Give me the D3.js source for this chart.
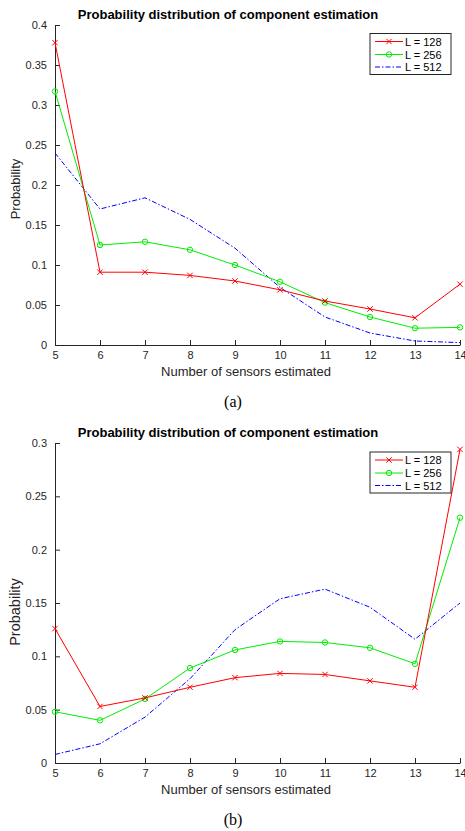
<!DOCTYPE html>
<html>
<head>
<meta charset="utf-8">
<script src="https://cdn.jsdelivr.net/npm/d3@7"></script>
<style>
  body { margin: 0; background: #fff; }
  svg { display: block; font-family: "Liberation Sans", Arial, Helvetica, sans-serif; }
  .axis path, .axis line { stroke: #262626; }
  .axis text { fill: #262626; font-size: 11px; }
</style>
</head>
<body>
<script>
var W = 465, H = 831;

// x values (number of sensors estimated)
var sensors = [5, 6, 7, 8, 9, 10, 11, 12, 13, 14];
var seriesNames = ["L = 128", "L = 256", "L = 512"];

// panel (a)
var a128 = [0.378, 0.091, 0.091, 0.087, 0.080, 0.069, 0.055, 0.045, 0.034, 0.076];
var a256 = [0.317, 0.125, 0.129, 0.119, 0.100, 0.079, 0.053, 0.035, 0.021, 0.022];
var a512 = [0.240, 0.170, 0.184, 0.157, 0.121, 0.072, 0.035, 0.015, 0.005, 0.003];
var aTicks = [0, 0.05, 0.1, 0.15, 0.2, 0.25, 0.3, 0.35, 0.4];

// panel (b)
var b128 = [0.126, 0.053, 0.061, 0.071, 0.080, 0.084, 0.083, 0.077, 0.071, 0.294];
var b256 = [0.048, 0.040, 0.060, 0.089, 0.106, 0.114, 0.113, 0.108, 0.093, 0.230];
var b512 = [0.008, 0.018, 0.043, 0.079, 0.125, 0.154, 0.163, 0.146, 0.116, 0.150];
var bTicks = [0, 0.05, 0.1, 0.15, 0.2, 0.25, 0.3];

var colors = ["#ff0000", "#00ee00", "#0000ff"];

var svg = d3.select("body").append("svg")
    .attr("width", W)
    .attr("height", H);

function drawPanel(opt) {
    var x = d3.scaleLinear().domain([5, 14]).range([55, 460]);
    var y = d3.scaleLinear().domain([0, opt.ymax]).range([opt.bottom, opt.top]);
    var g = svg.append("g");

    // axes
    g.append("g")
        .attr("class", "axis")
        .attr("transform", "translate(0," + opt.bottom + ")")
        .call(d3.axisBottom(x).tickValues(sensors).tickFormat(d3.format("d"))
            .tickSizeInner(-5).tickSizeOuter(0).tickPadding(6));

    g.append("g")
        .attr("class", "axis")
        .attr("transform", "translate(55,0)")
        .call(d3.axisLeft(y).tickValues(opt.ticks).tickFormat(function(d) { return d3.format("~g")(d); })
            .tickSizeInner(-5).tickSizeOuter(0).tickPadding(8));

    var line = d3.line()
        .x(function(d, i) { return x(sensors[i]); })
        .y(function(d) { return y(d); });

    // L = 512 (dash-dot)
    g.append("path")
        .datum(opt.s512)
        .attr("d", line)
        .attr("fill", "none")
        .attr("stroke", colors[2])
        .attr("stroke-width", 1)
        .attr("stroke-dasharray", "5,2,1.5,2");

    // L = 256 (circles)
    g.append("path")
        .datum(opt.s256)
        .attr("d", line)
        .attr("fill", "none")
        .attr("stroke", colors[1])
        .attr("stroke-width", 1);
    g.selectAll(".c256")
        .data(opt.s256)
        .join("circle")
        .attr("class", "c256")
        .attr("cx", function(d, i) { return x(sensors[i]); })
        .attr("cy", function(d) { return y(d); })
        .attr("r", 2.7)
        .attr("fill", "none")
        .attr("stroke", colors[1])
        .attr("stroke-width", 1);

    // L = 128 (crosses)
    g.append("path")
        .datum(opt.s128)
        .attr("d", line)
        .attr("fill", "none")
        .attr("stroke", colors[0])
        .attr("stroke-width", 1);
    g.selectAll(".x128")
        .data(opt.s128)
        .join("path")
        .attr("class", "x128")
        .attr("d", function(d, i) {
            var cx = x(sensors[i]), cy = y(d), r = 2.7;
            return "M" + (cx - r) + "," + (cy - r) + "L" + (cx + r) + "," + (cy + r) +
                   "M" + (cx - r) + "," + (cy + r) + "L" + (cx + r) + "," + (cy - r);
        })
        .attr("stroke", colors[0])
        .attr("stroke-width", 1);

    // title
    g.append("text")
        .attr("x", 228)
        .attr("y", opt.titleY)
        .attr("text-anchor", "middle")
        .attr("font-weight", "bold")
        .attr("font-size", "13px")
        .attr("fill", "#000")
        .text("Probability distribution of component estimation");

    // axis labels
    g.append("text")
        .attr("x", 246)
        .attr("y", opt.bottom + 31)
        .attr("text-anchor", "middle")
        .attr("font-size", "13px")
        .attr("fill", "#262626")
        .text("Number of sensors estimated");

    g.append("text")
        .attr("transform", "translate(20," + opt.ylabelY + ") rotate(-90)")
        .attr("text-anchor", "middle")
        .attr("font-size", opt.ylabelSize)
        .attr("fill", "#262626")
        .text("Probability");

    // caption
    g.append("text")
        .attr("x", 233)
        .attr("y", opt.captionY)
        .attr("text-anchor", "middle")
        .attr("font-family", "'Liberation Serif', 'Times New Roman', serif")
        .attr("font-size", "16px")
        .attr("fill", "#000")
        .text(opt.caption);

    // legend
    var lg = g.append("g").attr("transform", "translate(370," + opt.legendY + ")");
    lg.append("rect")
        .attr("x", 0).attr("y", 0)
        .attr("width", 81).attr("height", 41)
        .attr("fill", "#fff")
        .attr("stroke", "#262626")
        .attr("stroke-width", 1);
    var rows = [8, 21, 33.5];
    seriesNames.forEach(function(name, i) {
        var ry = rows[i];
        var l = lg.append("line")
            .attr("x1", 5).attr("x2", 33)
            .attr("y1", ry).attr("y2", ry)
            .attr("stroke", colors[i])
            .attr("stroke-width", 1);
        if (i === 2) l.attr("stroke-dasharray", "5,2,1.5,2");
        if (i === 0) {
            lg.append("path")
                .attr("d", "M16.3," + (ry - 2.7) + "L21.7," + (ry + 2.7) + "M16.3," + (ry + 2.7) + "L21.7," + (ry - 2.7))
                .attr("stroke", colors[0]).attr("stroke-width", 1);
        }
        if (i === 1) {
            lg.append("circle")
                .attr("cx", 19).attr("cy", ry).attr("r", 2.7)
                .attr("fill", "none").attr("stroke", colors[1]).attr("stroke-width", 1);
        }
        lg.append("text")
            .attr("x", 35)
            .attr("y", ry + 4)
            .attr("font-size", "11px")
            .attr("fill", "#000")
            .text(name);
    });
}

drawPanel({
    top: 25, bottom: 345, ymax: 0.4, ticks: aTicks,
    s128: a128, s256: a256, s512: a512,
    titleY: 19, ylabelY: 189, ylabelSize: "13px",
    captionY: 407, caption: "(a)", legendY: 33.5
});

drawPanel({
    top: 443, bottom: 763, ymax: 0.3, ticks: bTicks,
    s128: b128, s256: b256, s512: b512,
    titleY: 437, ylabelY: 612, ylabelSize: "14.5px",
    captionY: 825, caption: "(b)", legendY: 452
});
</script>
</body>
</html>
